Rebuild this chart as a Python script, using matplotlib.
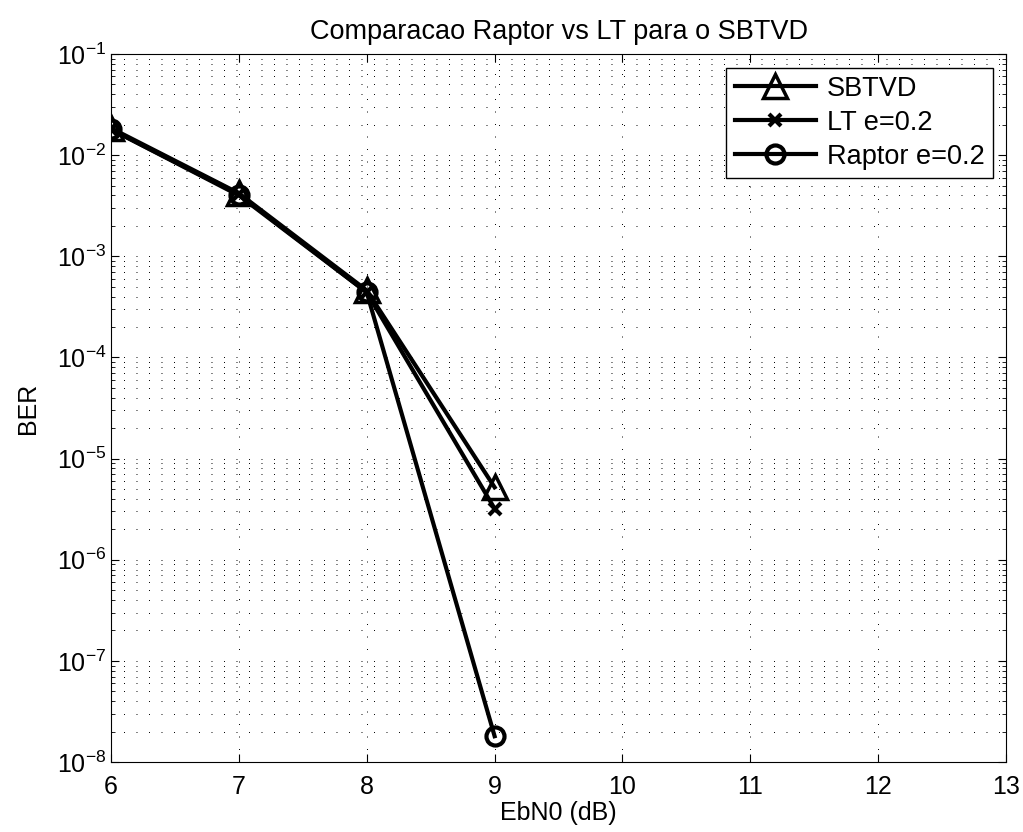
from matplotlib import pyplot as plt
import numpy as np

# EbN0 (dB) e BER
ebn0 = [6, 7, 8, 9]
ber_sbtvd = [1.85e-2, 4.2e-3, 4.6e-4, 5.2e-6]
ber_lt = [1.8e-2, 4.1e-3, 4.4e-4, 3.2e-6]
ber_raptor = [1.8e-2, 4.0e-3, 4.4e-4, 1.8e-8]

plt.rcParams['font.family'] = ['Liberation Sans', 'DejaVu Sans']
plt.rcParams['mathtext.fontset'] = 'custom'
plt.rcParams['mathtext.rm'] = 'Liberation Sans'
plt.rcParams['font.size'] = 18
plt.rcParams['lines.scale_dashes'] = False

fig = plt.figure(figsize=(10.23, 8.32), dpi=100)
ax = fig.add_axes([0.1085, 0.0841, 0.875, 0.851])

ax.semilogy(ebn0, ber_sbtvd, '-^', color='k', lw=3, ms=17, mfc='none', mew=2.5, label='SBTVD')
ax.semilogy(ebn0, ber_lt, '-x', color='k', lw=3, ms=9, mew=3, label='LT e=0.2')
ax.semilogy(ebn0, ber_raptor, '-o', color='k', lw=3, ms=13, mfc='none', mew=3, label='Raptor e=0.2')

ax.set_xlim(6, 13)
ax.set_ylim(1e-8, 1e-1)
ax.set_xticks(np.arange(6, 14))
ax.grid(True, which='major', axis='x', color='k', lw=0.7, linestyle=(0, (0.7, 8.3)))
ax.grid(True, which='both', axis='y', color='k', lw=0.7, linestyle=(0, (0.7, 8.3)))
ax.tick_params(which='both', direction='in', top=True, right=True, labelsize=18)
ax.tick_params(which='major', length=6)
ax.tick_params(which='minor', length=3)
ax.tick_params(axis='x', pad=9)

ax.set_title('Comparacao Raptor vs LT para o SBTVD', fontsize=19.5, pad=11)
ax.set_xlabel('EbN0 (dB)', labelpad=2)
ax.set_ylabel('BER', labelpad=12)

leg = ax.legend(loc='upper right', fancybox=False, framealpha=1, edgecolor='k',
                handlelength=3, borderaxespad=0.5, fontsize=19.5,
                borderpad=0.3, labelspacing=0.3, handletextpad=0.4)
leg.get_frame().set_linewidth(1)

plt.savefig('out.png')
